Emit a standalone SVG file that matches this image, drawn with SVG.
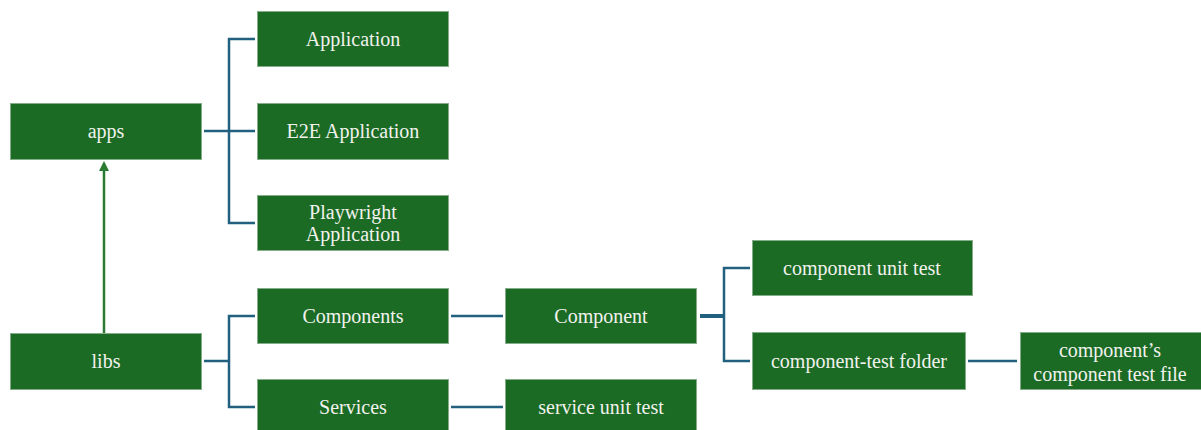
<svg xmlns="http://www.w3.org/2000/svg" width="1201" height="430" viewBox="0 0 1201 430">
  <defs>
    <style>
      .box { fill: #1b6b25; stroke: #86ad89; stroke-width: 1; }
      .lbl { font-family: 'Liberation Serif', 'DejaVu Serif', 'Times New Roman', serif; font-size: 20px; fill: #f2f2ee; text-anchor: middle; }
      .link { fill: none; stroke: #21607f; stroke-width: 2.5; }
      .dep { fill: none; stroke: #2a7a32; stroke-width: 2.5; }
      .dep-head { fill: #2a7a32; }
    </style>
  </defs>

  <rect width="1201" height="430" fill="#ffffff"/>

  <!-- connectors -->
  <g id="connectors">
    <!-- apps tree -->
    <path class="link" d="M204,131 H229 M255,39 H229 V223 H255 M229,131 H255"/>
    <!-- libs tree -->
    <path class="link" d="M204,361 H229 M255,316 H229 V407 H255"/>
    <path class="link" d="M451,316 H503"/>
    <path class="link" d="M451,407 H503"/>
    <!-- component tree -->
    <path class="link" d="M700,316 H724" style="stroke-width:4"/>
    <path class="link" d="M750,268 H724 V361 H750"/>
    <path class="link" d="M968,361 H1017"/>
    <!-- libs depends on apps -->
    <path class="dep" d="M104,333 V170"/>
    <path class="dep-head" d="M99,171 L104,161 L109,171 Z"/>
  </g>

  <g id="node-apps">
    <rect class="box" x="10.5" y="103.5" width="191" height="56"/>
    <text class="lbl" x="106" y="138">apps</text>
  </g>
  <g id="node-application">
    <rect class="box" x="257.5" y="11.5" width="191" height="55"/>
    <text class="lbl" x="353" y="45.5">Application</text>
  </g>
  <g id="node-e2e-application">
    <rect class="box" x="257.5" y="103.5" width="191" height="56"/>
    <text class="lbl" x="353" y="138">E2E Application</text>
  </g>
  <g id="node-playwright-application">
    <rect class="box" x="257.5" y="195.5" width="191" height="55"/>
    <text class="lbl" x="353" y="219">Playwright</text>
    <text class="lbl" x="353" y="241">Application</text>
  </g>

  <g id="node-libs">
    <rect class="box" x="10.5" y="333.5" width="191" height="56"/>
    <text class="lbl" x="106" y="368">libs</text>
  </g>
  <g id="node-components">
    <rect class="box" x="257.5" y="288.5" width="191" height="55"/>
    <text class="lbl" x="353" y="322.5">Components</text>
  </g>
  <g id="node-services">
    <rect class="box" x="257.5" y="379.5" width="191" height="56"/>
    <text class="lbl" x="353" y="414">Services</text>
  </g>
  <g id="node-component">
    <rect class="box" x="505.5" y="288.5" width="191" height="55"/>
    <text class="lbl" x="601" y="322.5">Component</text>
  </g>
  <g id="node-service-unit-test">
    <rect class="box" x="505.5" y="379.5" width="191" height="56"/>
    <text class="lbl" x="601" y="414">service unit test</text>
  </g>
  <g id="node-component-unit-test">
    <rect class="box" x="752.5" y="240.5" width="220" height="55"/>
    <text class="lbl" x="862" y="274.5">component unit test</text>
  </g>
  <g id="node-component-test-folder">
    <rect class="box" x="752.5" y="332.5" width="213" height="57"/>
    <text class="lbl" x="859" y="367.5">component-test folder</text>
  </g>
  <g id="node-component-test-file">
    <rect class="box" x="1020.5" y="332.5" width="182" height="57"/>
    <text class="lbl" x="1110" y="357">component’s</text>
    <text class="lbl" x="1110" y="381">component test file</text>
  </g>
</svg>
